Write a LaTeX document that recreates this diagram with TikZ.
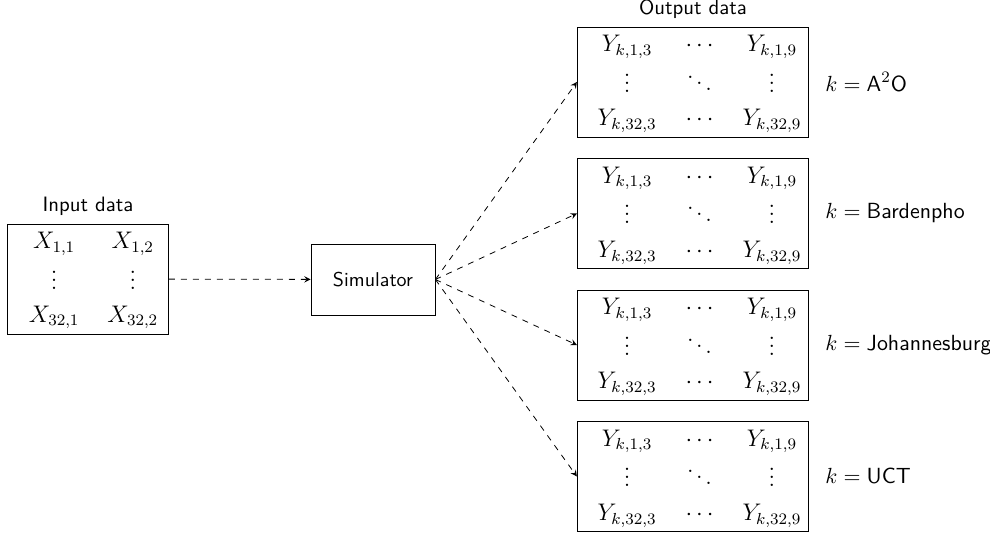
\documentclass[tikz,border=0pt]{standalone}
\usetikzlibrary{arrows}
\tikzset{
  databox/.style={draw, inner sep=0pt, minimum width=#1, minimum height=55pt, font=\large},
  simbox/.style={draw, inner sep=0pt, minimum width=62pt, minimum height=35.5pt, font=\sffamily},
  caption/.style={inner sep=0pt, font=\fontsize{10.4}{12}\selectfont\sffamily},
  klabel/.style={anchor=west, inner sep=0pt, font=\fontsize{10.95}{13}\selectfont},
  flow/.style={dashed, -stealth},
}
% output matrix Y_{k,i,j}
\newcommand{\ymatrix}{\hspace{6.7pt}$\renewcommand{\arraystretch}{1.21}\setlength{\arraycolsep}{7.25pt}%
\begin{array}{@{}ccc@{}}
Y_{k,1,3} & \cdots & Y_{k,1,9}\\
\vdots & \ddots & \vdots\\
Y_{k,32,3} & \cdots & Y_{k,32,9}
\end{array}$}
\begin{document}
\begin{tikzpicture}[x=0.5pt, y=-0.5pt]
\useasboundingbox (0,0) rectangle (990,533);

% input
\node[databox=80.5pt] (in) at (88,279) {\hspace{5.5pt}$\renewcommand{\arraystretch}{1.18}\setlength{\arraycolsep}{7pt}%
\begin{array}{@{}cc@{}}
X_{1,1} & X_{1,2}\\
\vdots & \vdots\\
X_{32,1} & X_{32,2}
\end{array}$};
\node[caption] (inlabel) at (88,206) {Input data};

% simulator
\node[simbox] (sim) at (373,279.5) {Simulator};

% outputs
\node[databox=115.5pt] (o1) at (692.8,82) {\ymatrix};
\node[databox=115.5pt] (o2) at (692.8,213.5) {\ymatrix};
\node[databox=115.5pt] (o3) at (692.8,345) {\ymatrix};
\node[databox=115.5pt] (o4) at (692.8,476.5) {\ymatrix};
\node[caption] (outlabel) at (693,9) {Output data};

\node[klabel] (k1) at (825,82) {$k=\textsf{A}^2\textsf{O}$};
\node[klabel] (k2) at (825,213.5) {$k=\textsf{Bardenpho}$};
\node[klabel] (k3) at (825,345) {$k=\textsf{Johannesburg}$};
\node[klabel] (k4) at (825,476.5) {$k=\textsf{UCT}$};

% connectors
\draw[flow] (in) -- (sim);
\draw[flow] (sim.east) -- (o1.west);
\draw[flow] (sim.east) -- (o2.west);
\draw[flow] (sim.east) -- (o3.west);
\draw[flow] (sim.east) -- (o4.west);
\end{tikzpicture}
\end{document}
